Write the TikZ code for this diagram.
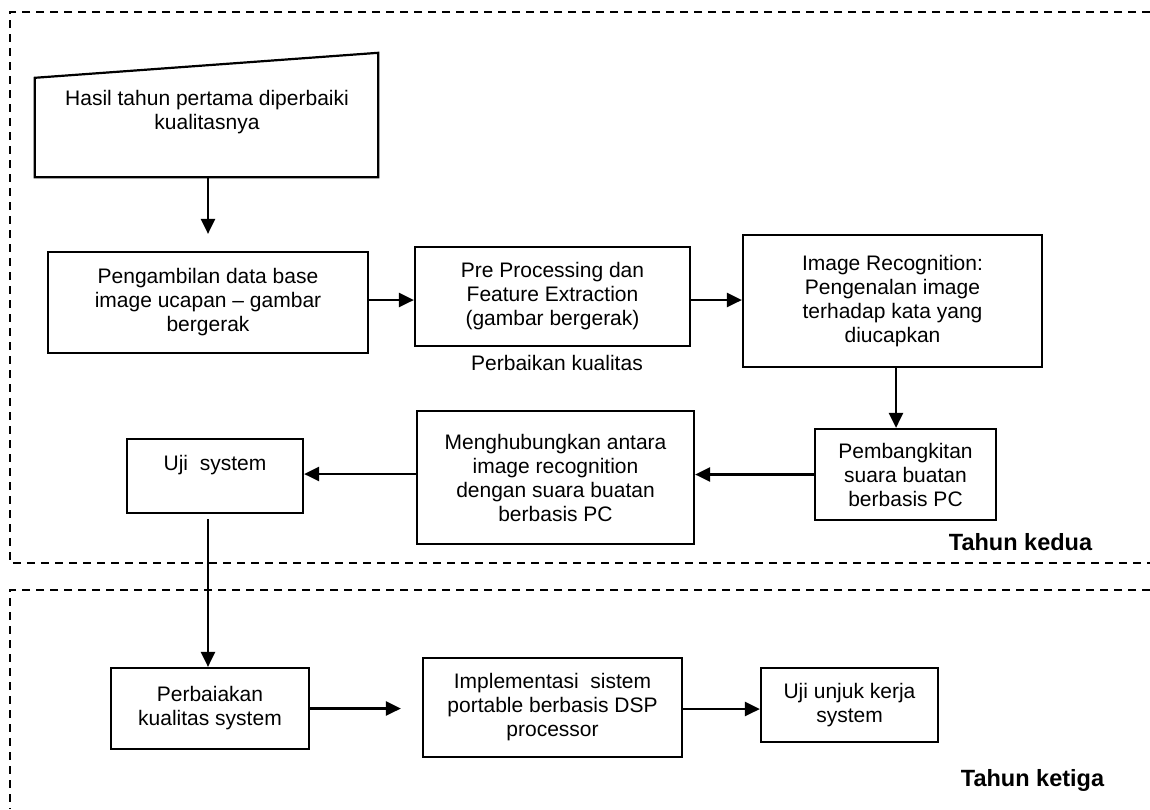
\documentclass[tikz,border=0pt]{standalone}
\usepackage{fontspec}
\setmainfont{Liberation Sans}
\usetikzlibrary{arrows.meta}
\begin{document}
\begin{tikzpicture}[x=1pt,y=-1pt,
  font=\fontsize{21}{24}\selectfont,
  box/.style={draw, line width=2.2pt, inner sep=0pt, align=center},
  ghost/.style={inner sep=0pt},
  lbl/.style={inner sep=0pt, align=center},
  arr/.style={line width=2.5pt, -{Triangle[length=15pt,width=14pt]}},
  frame/.style={line width=1.8pt, dash pattern=on 8pt off 6pt},
  yr/.style={inner sep=0pt, font=\fontsize{23.5}{28}\selectfont\bfseries}]
\useasboundingbox (0,0) rectangle (1150,809);

% year frames (open on the right)
\draw[frame] (1150,12) -- (10,12) -- (10,563) -- (1150,563);
\draw[frame] (1150,590) -- (10,590) -- (10,809);

% manual-input block
\node[ghost, minimum width=343pt, minimum height=124pt] (hasil) at (206.5,115) {};
\draw[line width=2.2pt] (hasil.south west) -- (hasil.south east) -- (hasil.north east)
  -- ([yshift=-25pt]hasil.north west) -- cycle;
\node[lbl] (thasil) at (207,112.5) {Hasil tahun pertama diperbaiki\\kualitasnya};

% second year
\node[box, minimum width=320pt, minimum height=101pt] (peng) at (208,302.5)
  {Pengambilan data base\\image ucapan -- gambar\\bergerak};
\node[box, minimum width=275pt, minimum height=99pt] (pre) at (552.5,296.5)
  {Pre Processing dan\\Feature Extraction\\(gambar bergerak)};
\node[lbl, anchor=base] (perbk) at (557,370) {Perbaikan kualitas};
\node[box, minimum width=299pt, minimum height=132pt] (img) at (892.5,301)
  {Image Recognition:\\Pengenalan image\\terhadap kata yang\\diucapkan};
\node[box, minimum width=181pt, minimum height=91pt] (pem) at (905.5,474.5)
  {Pembangkitan\\suara buatan\\berbasis PC};
\node[box, minimum width=277pt, minimum height=133pt] (meng) at (555.5,477.5)
  {Menghubungkan antara\\image recognition\\dengan suara buatan\\berbasis PC};
\node[box, minimum width=176pt, minimum height=74pt] (uji) at (215,476) {};
\node[lbl, anchor=base] (tuji) at (215,470) {Uji\ \ system};
\node[yr, anchor=base] (kedua) at (1020.5,550) {Tahun kedua};

% third year
\node[box, minimum width=198pt, minimum height=81pt] (perb) at (210,708.5)
  {Perbaiakan\\kualitas system};
\node[box, minimum width=259pt, minimum height=99pt] (impl) at (552.5,707.5)
  {Implementasi\ \ sistem\\portable berbasis DSP\\processor};
\node[box, minimum width=177pt, minimum height=74pt] (uji2) at (849.5,705)
  {Uji unjuk kerja\\system};
\node[yr, anchor=base] (ketiga) at (1032.5,786) {Tahun ketiga};

% flow
\draw[arr, shorten >=17pt] (peng.north |- hasil.south) -- (peng.north);
\draw[arr] ([yshift=2.5pt]peng.east) -- ([yshift=2.5pt]peng.east -| pre.west);
\draw[arr] ([yshift=-3.5pt]pre.east) -- ([yshift=-3.5pt]pre.east -| img.west);
\draw[arr] ([xshift=3.5pt]img.south) -- ([xshift=3.5pt]img.south |- pem.north);
\draw[arr] (pem.west) -- (pem.west -| meng.east);
\draw[arr] ([yshift=3.5pt]meng.west) -- ([yshift=3.5pt]meng.west -| uji.east);
\draw[arr, shorten <=5pt] ([xshift=-7pt]uji.south) -- ([xshift=-7pt]uji.south |- perb.north);
\draw[arr, shorten >=21pt] (perb.east) -- (perb.east -| impl.west);
\draw[arr] ([yshift=-1.5pt]impl.east) -- ([yshift=-1.5pt]impl.east -| uji2.west);
\end{tikzpicture}
\end{document}
